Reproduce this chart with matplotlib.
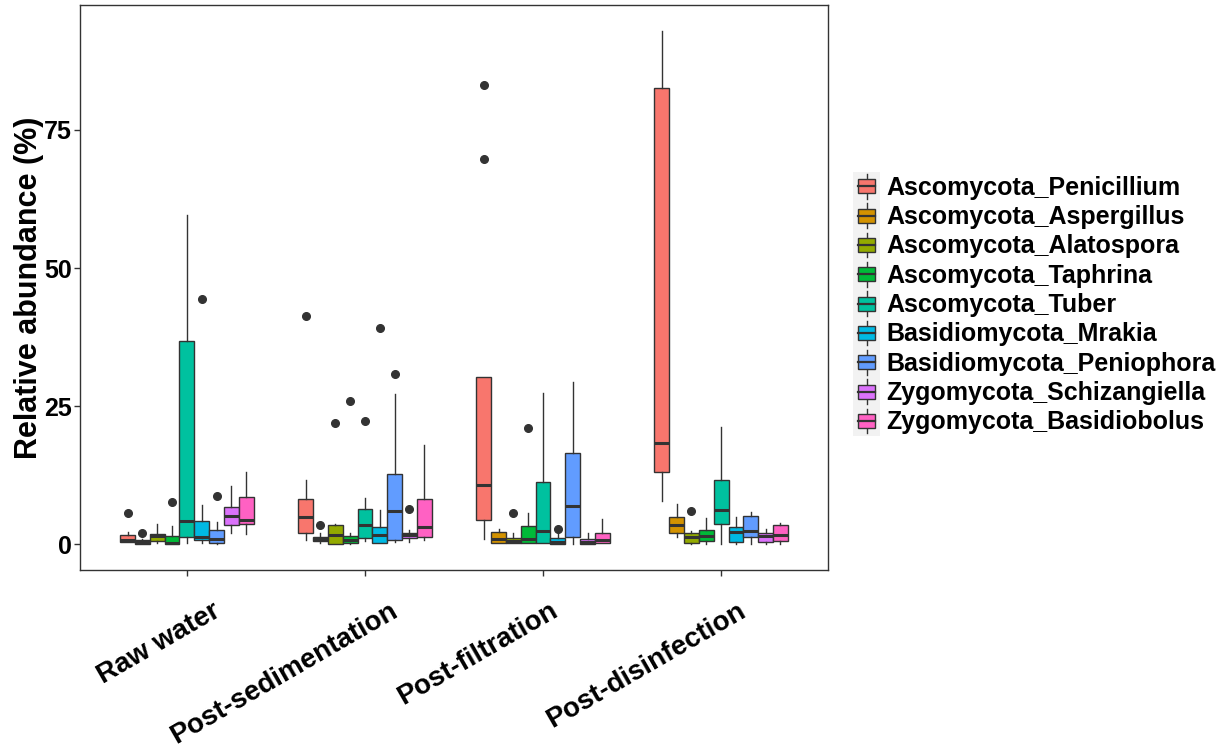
import matplotlib.pyplot as plt
from matplotlib.legend_handler import HandlerBase
from matplotlib.patches import Rectangle, Patch
from matplotlib.lines import Line2D
from matplotlib.transforms import ScaledTranslation

plt.rcParams["font.family"] = "Liberation Sans"

stages = ["Raw water", "Post-sedimentation", "Post-filtration", "Post-disinfection"]
genera = ["Ascomycota_Penicillium", "Ascomycota_Aspergillus", "Ascomycota_Alatospora",
          "Ascomycota_Taphrina", "Ascomycota_Tuber", "Basidiomycota_Mrakia",
          "Basidiomycota_Peniophora", "Zygomycota_Schizangiella", "Zygomycota_Basidiobolus"]
colors = ["#F8766D", "#D39200", "#93AA00", "#00BA38", "#00C19F",
          "#00B9E3", "#619CFF", "#DB72FB", "#FF61C3"]

# box statistics, one row per stage, one value per genus
whislo = [[0.36, 0.0, 0.3, 0.0, 0.3, 0.3, 0.1, 2.1, 1.87],
          [0.72, 0.3, 0.0, 0.07, 0.6, 0.18, 0.36, 0.36, 0.85],
          [0.9, 0.2, 0.2, 0.2, 0.2, 0.0, 0.0, 0.0, 0.2],
          [7.9, 1.27, 0.0, 0.0, 0.0, 0.0, 0.0, 0.0, 0.0]]
q1 = [[0.42, 0.0, 0.6, 0.0, 1.27, 0.72, 0.25, 3.5, 3.68],
      [2.11, 0.67, 0.12, 0.18, 1.15, 0.18, 0.72, 1.15, 1.33],
      [4.35, 0.25, 0.3, 0.25, 0.3, 0.0, 1.33, 0.0, 0.3],
      [13.1, 2.0, 0.27, 0.65, 3.7, 0.4, 1.38, 0.4, 0.65]]
median = [[0.72, 0.45, 1.5, 0.3, 4.2, 1.33, 0.9, 5.13, 4.35],
          [4.9, 0.97, 1.63, 0.85, 3.44, 1.69, 6.1, 1.69, 3.08],
          [10.7, 0.97, 0.6, 0.9, 2.35, 0.42, 7.0, 0.42, 0.72],
          [18.4, 3.44, 1.3, 1.45, 6.29, 2.28, 2.4, 1.45, 1.7]]
q3 = [[1.63, 0.85, 1.87, 1.45, 36.8, 4.17, 2.54, 6.76, 8.64],
      [8.15, 1.33, 3.44, 1.57, 6.47, 3.2, 12.7, 2.05, 8.15],
      [30.3, 2.3, 1.2, 3.26, 11.2, 1.2, 16.5, 0.9, 2.1],
      [82.5, 4.93, 2.0, 2.54, 11.7, 3.06, 5.07, 2.0, 3.5]]
whishi = [[2.2, 1.0, 3.75, 3.26, 59.6, 7.2, 4.1, 10.6, 13.0],
          [11.6, 2.05, 3.6, 2.0, 8.33, 6.28, 27.2, 2.54, 17.9],
          [30.3, 2.7, 2.05, 5.74, 27.3, 2.1, 29.3, 2.05, 4.65],
          [92.9, 7.26, 2.4, 4.67, 21.2, 5.0, 5.9, 2.7, 3.9]]
outliers = [[[5.6], [2.0], [], [7.66], [], [44.4], [8.75], [], []],
            [[41.4], [3.4], [21.9], [26.0], [22.3], [39.1], [30.9], [6.47], []],
            [[69.8, 83.1], [], [5.74], [21.1], [], [2.7], [], [], []],
            [[], [], [6.0], [], [], [], [], [], []]]

dark = "#333333"

fig = plt.figure(figsize=(12.31, 7.48), dpi=100)
ax = fig.add_axes([0.065, 0.238, 0.6076, 0.7553])

step = 0.75 / len(genera)
for i in range(len(stages)):
    for j in range(len(genera)):
        st = dict(whislo=whislo[i][j], q1=q1[i][j], med=median[i][j], q3=q3[i][j],
                  whishi=whishi[i][j], fliers=outliers[i][j])
        pos = i + 1 + (j - (len(genera) - 1) / 2) * step
        ax.bxp([st], positions=[pos], widths=step, patch_artist=True, showcaps=False,
               boxprops=dict(facecolor=colors[j], edgecolor=dark, linewidth=1.0),
               medianprops=dict(color=dark, linewidth=2.2, solid_capstyle="butt"),
               whiskerprops=dict(color=dark, linewidth=1.0),
               flierprops=dict(marker="o", markerfacecolor=dark, markeredgecolor=dark,
                               markersize=5.5),
               manage_ticks=False)

ax.set_xlim(0.4, 4.6)
ax.set_ylim(-4.65, 97.6)
ax.set_yticks([0, 25, 50, 75])
ax.set_xticks(range(1, len(stages) + 1))
ax.set_xticklabels([])
ax.tick_params(length=4, width=1, color=dark, labelcolor="black", pad=2)
for lab in ax.get_yticklabels():
    lab.set_fontsize(18)
    lab.set_fontweight("bold")
ax.set_ylabel("Relative abundance (%)", fontsize=22, fontweight="bold", labelpad=0)
for sp in ax.spines.values():
    sp.set_color(dark)
    sp.set_linewidth(1.0)

# rotated stage labels, shifted like ggplot's angle=30 labels
nudge = [0.0, 0.0, -0.18, -0.08]
for k, name in enumerate(stages):
    shift = ScaledTranslation(0.31 + nudge[k], -0.39, fig.dpi_scale_trans)
    ax.text(k + 1, 0, name, transform=ax.get_xaxis_transform() + shift,
            rotation=30, ha="right", va="center", rotation_mode="anchor",
            fontsize=20, fontweight="bold")


class BoxKey(HandlerBase):
    def create_artists(self, legend, orig_handle, xdescent, ydescent, width, height,
                       fontsize, trans):
        x0, y0 = -xdescent, -ydescent
        bg = Rectangle((x0, y0), width, height, facecolor="#F2F2F2", edgecolor="none",
                       transform=trans)
        bw, bh = width * 0.64, height * 0.48
        bx, by = x0 + (width - bw) / 2, y0 + (height - bh) / 2
        cx = x0 + width / 2
        lo = Line2D([cx, cx], [y0 + height * 0.08, by], color=dark, lw=1.0, transform=trans)
        hi = Line2D([cx, cx], [by + bh, y0 + height * 0.92], color=dark, lw=1.0, transform=trans)
        box = Rectangle((bx, by), bw, bh, facecolor=orig_handle.get_facecolor(),
                        edgecolor=dark, lw=1.0, transform=trans)
        med = Line2D([bx, bx + bw], [y0 + height / 2] * 2, color=dark, lw=1.6, transform=trans)
        return [bg, lo, hi, box, med]


handles = [Patch(facecolor=c) for c in colors]
fig.legend(handles, genera, handler_map={Patch: BoxKey()}, loc="center left",
           bbox_to_anchor=(0.693, 0.594), frameon=False, borderpad=0, borderaxespad=0,
           labelspacing=0, handlelength=1.08, handleheight=1.43, handletextpad=0.25,
           prop=dict(weight="bold", size=18))

fig.savefig("out.png", dpi=100)
